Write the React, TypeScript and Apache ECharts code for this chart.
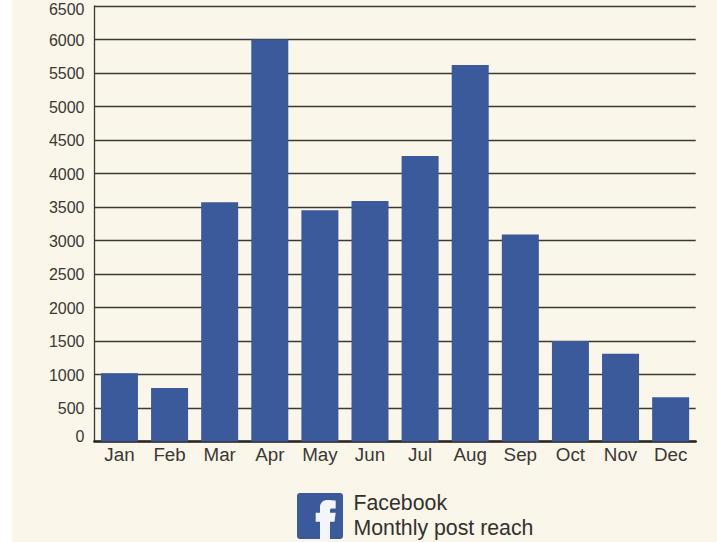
import React, { useEffect, useRef } from "react";
import * as echarts from "echarts";

const months = ["Jan", "Feb", "Mar", "Apr", "May", "Jun", "Jul", "Aug", "Sep", "Oct", "Nov", "Dec"];
const reach = [1020, 800, 3570, 6000, 3450, 3590, 4260, 5620, 3090, 1500, 1310, 660];
const legendLines = ["Facebook", "Monthly post reach"];
const textColor = "#3a3835";
const lineColor = "#3c3a35";
const blue = "#3a5a9b";

echarts.graphic.registerShape(
  "fbF",
  echarts.graphic.extendPath(
    "M23 46V28.7H18.7V19.7H23V14.5C23 9.5 26 7 30.5 7C33 7 37 7.3 38.7 7.6V15.5H34.5C33 15.5 33 17 33 18V19.7H38.7L37.5 28.7H33V46Z",
    {}
  )
);

const axisFont = { fontFamily: "Liberation Sans", fontSize: 16, color: textColor };

export default function App() {
  const ref = useRef<HTMLDivElement>(null);
  useEffect(() => {
    document.body.style.margin = "0";
    const chart = echarts.init(ref.current!, undefined, { renderer: "svg" });
    chart.setOption({
      animation: false,
      backgroundColor: "transparent",
      grid: { left: 94.4, right: 21.3, top: 6, bottom: 100.5 },
      xAxis: {
        type: "category",
        data: months,
        axisTick: { show: false },
        axisLine: { lineStyle: { color: "#2a2620", width: 2.5 } },
        axisLabel: {
          color: textColor,
          fontFamily: "Liberation Sans",
          fontSize: 18.8,
          margin: 3,
          interval: 0,
        },
      },
      yAxis: {
        type: "value",
        min: 0,
        max: 6500,
        interval: 500,
        axisLine: { show: true, lineStyle: { color: lineColor, width: 1.3 } },
        axisTick: { show: false },
        splitLine: { lineStyle: { color: lineColor, width: 1.3 } },
        axisLabel: {
          color: textColor,
          margin: 9.9,
          formatter: (v: number) => (v === 0 ? `{low|${v}}` : v === 6500 ? `{high|${v}}` : `{mid|${v}}`),
          rich: {
            low: { ...axisFont, padding: [0, 0, 10, 0] },
            high: { ...axisFont, padding: [6, 0, 0, 0] },
            mid: { ...axisFont, padding: [1, 0, 0, 0] },
          },
        },
      },
      series: [
        {
          type: "bar",
          data: reach,
          barWidth: 37,
          itemStyle: { color: blue },
        },
      ],
      graphic: [
        {
          type: "rect",
          shape: { x: 297, y: 493, width: 46, height: 46, r: 3 },
          style: { fill: blue },
        },
        {
          type: "fbF",
          x: 297,
          y: 493,
          style: { fill: "#f4f5f8" },
        },
        {
          type: "text",
          x: 353.5,
          y: 502.5,
          style: { text: legendLines[0], font: '21.3px "Liberation Sans"', fill: "#33312e", verticalAlign: "middle" },
        },
        {
          type: "text",
          x: 353.5,
          y: 527.5,
          style: { text: legendLines[1], font: '21.3px "Liberation Sans"', fill: "#33312e", verticalAlign: "middle" },
        },
      ],
    });
    return () => chart.dispose();
  }, []);
  return (
    <div style={{ position: "relative", width: 717, height: 542, background: "#fff", overflow: "hidden" }}>
      <div style={{ position: "absolute", left: 12, top: 0, width: 705, height: 542, background: "#faf6ea" }} />
      <div ref={ref} style={{ position: "absolute", left: 0, top: 0, width: 717, height: 542 }} />
    </div>
  );
}
